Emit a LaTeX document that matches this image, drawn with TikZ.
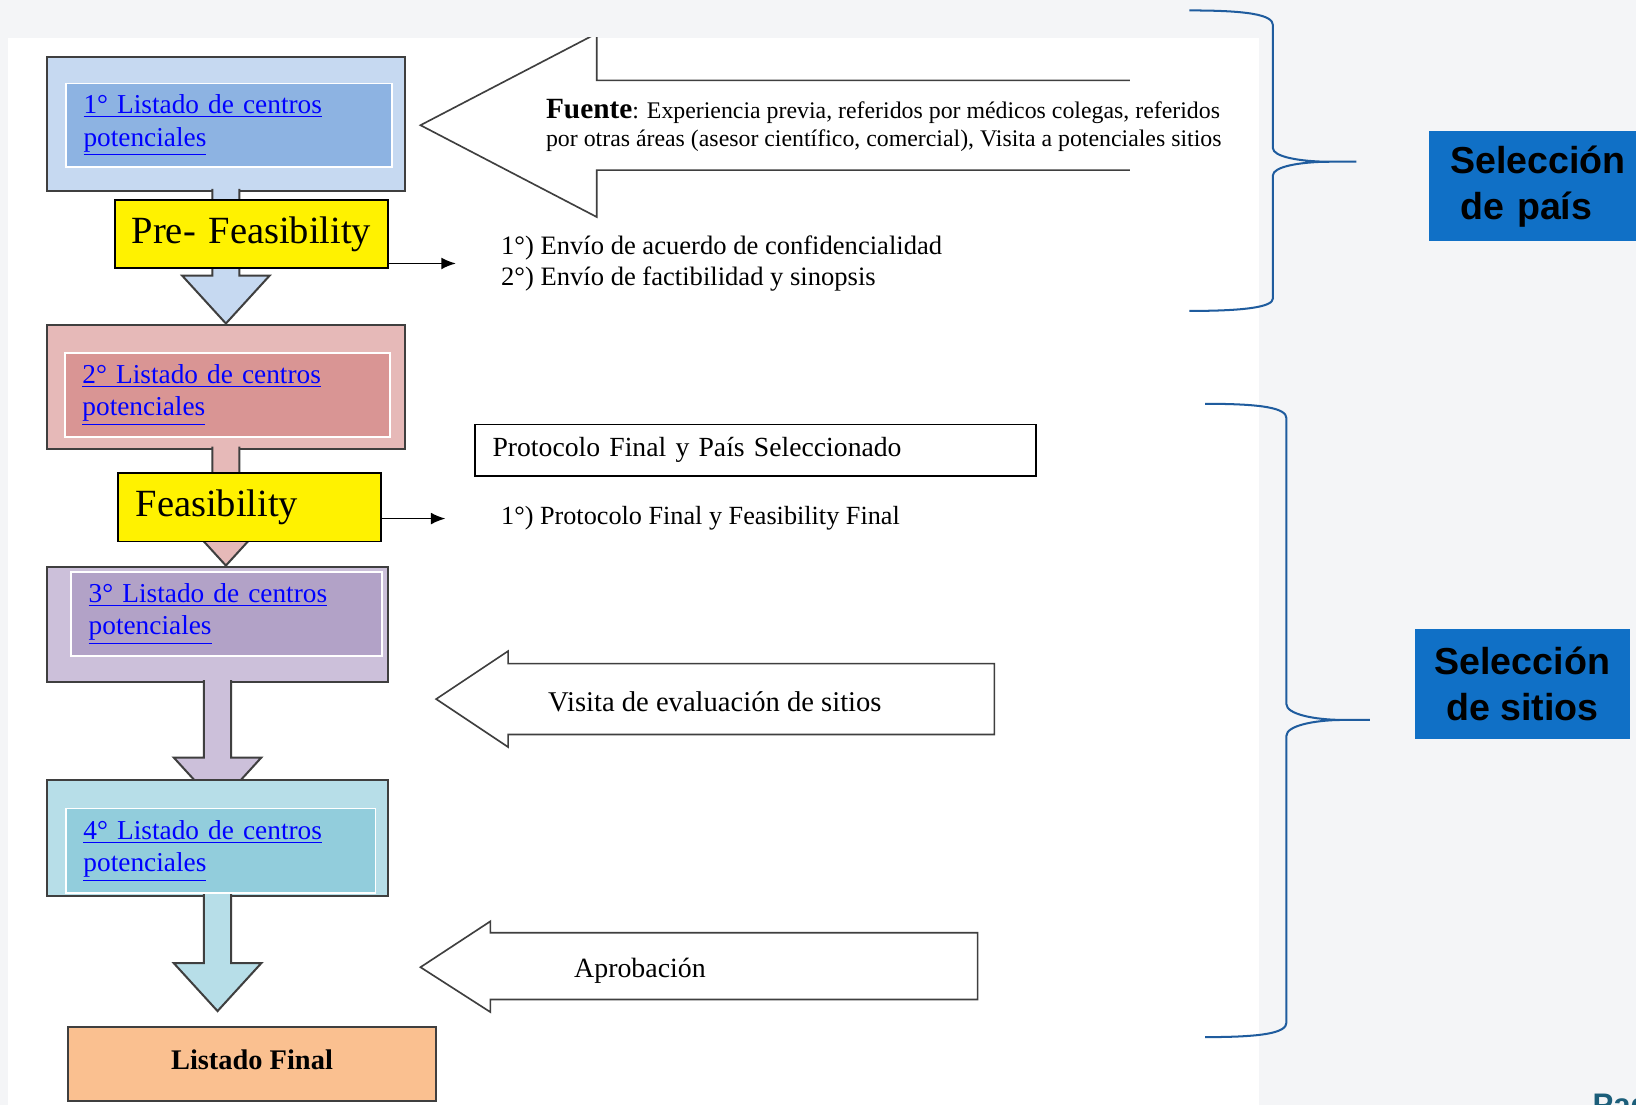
\documentclass[tikz,border=0pt]{standalone}
\usepackage{fontspec}
\setmainfont{Liberation Serif}
\newfontfamily\arialf{Liberation Sans}
\usetikzlibrary{calc,arrows.meta}

\definecolor{edge}{HTML}{3F3F3F}
\definecolor{c1out}{HTML}{C6D9F1}
\definecolor{c1in}{HTML}{8DB3E2}
\definecolor{c2out}{HTML}{E6B9B8}
\definecolor{c2in}{HTML}{D99594}
\definecolor{c3out}{HTML}{CCC0DA}
\definecolor{c3in}{HTML}{B2A2C7}
\definecolor{c4out}{HTML}{B7DEE8}
\definecolor{c4in}{HTML}{92CDDC}
\definecolor{fin}{HTML}{FAC090}
\definecolor{linkc}{HTML}{0000FF}
\definecolor{brc}{HTML}{1F5C9E}
\definecolor{selc}{HTML}{1070C6}
\definecolor{pagc}{HTML}{1B5E7A}
\definecolor{paper}{HTML}{F4F5F7}

\begin{document}
\begin{tikzpicture}[x=0.02cm,y=-0.02cm,>={Latex[length=8pt,width=6.5pt]},
    outer/.style={draw=edge,line width=1.1pt,fill=#1,inner sep=0pt},
    inbox/.style={draw=white,line width=0.9pt,fill=#1,text=linkc,align=left,inner xsep=0.34cm,inner ysep=0pt,font=\fontsize{14.9}{17.6}\selectfont},
    yel/.style={draw=black,line width=1pt,fill=yellow,inner ysep=0pt,font=\fontsize{21}{25}\selectfont},
    fat/.style={draw=edge,line width=1.1pt,fill=#1,to path={let \p1=(\tikztostart),\p2=(\tikztotarget) in
      (\x1-0.26cm,\y1+0.06cm) -- (\x1-0.26cm,\y2+0.92cm) -- (\x1-0.84cm,\y2+0.92cm) -- (\x1,\y2)
      -- (\x1+0.84cm,\y2+0.92cm) -- (\x1+0.26cm,\y2+0.92cm) -- (\x1+0.26cm,\y1+0.06cm)}},
    note/.style={inner sep=0pt,align=left,anchor=west},
    callout/.style={draw=edge,line width=0.9pt,fill=white},
    brk/.style={draw=brc,line width=1.1pt},
    sel/.style={fill=selc,inner sep=0pt,minimum height=2.1cm,font=\arialf\bfseries\fontsize{20.5}{25}\selectfont}]
\useasboundingbox (0,0) rectangle (1568,1059);
\fill[paper] (0,0) rectangle (1568,1059);
\fill[white] (8,36) rectangle (1207,1059);

\draw[brk] (1140,10) .. controls (1195,10) and (1220,14) .. (1220,24) -- (1220,142)
  .. controls (1220,150) and (1245,155) .. (1275,155) -- (1300,155) -- (1275,155)
  .. controls (1245,155) and (1220,160) .. (1220,168) -- (1220,286)
  .. controls (1220,294) and (1195,298) .. (1140,298);
\draw[brk] (1155,387) .. controls (1210,387) and (1233,391) .. (1233,401) -- (1233,675)
  .. controls (1233,684) and (1258,690) .. (1288,690) -- (1313,690) -- (1288,690)
  .. controls (1258,690) and (1233,696) .. (1233,705) -- (1233,980)
  .. controls (1233,990) and (1210,994) .. (1155,994);

\begin{scope}
\clip (8,36) rectangle (1207,1059);
\draw[callout] (1083,77) -- (572,77) -- (572,32) -- (403,120) -- (572,208) -- (572,163) -- (1083,163);
\end{scope}
\draw[callout] (418,670) -- (487,624) -- (487,636) -- (953,636) -- (953,704) -- (487,704) -- (487,716) -- cycle;
\draw[callout] (403,927) -- (470,883) -- (470,894) -- (937,894) -- (937,958) -- (470,958) -- (470,970) -- cycle;

\node[outer=c1out,minimum width=6.86cm,minimum height=2.56cm] (b1) at (216.5,119) {};
\node[inbox=c1in,text width=5.58cm,minimum height=1.6cm] (i1) at (219.5,120) {\underline{1° Listado de centros}\\\underline{potenciales}};
\node[outer=c2out,minimum width=6.86cm,minimum height=2.38cm] (b2) at (216.5,370.5) {};
\node[inbox=c2in,text width=5.56cm,minimum height=1.62cm] (i2) at (218,378.5) {\underline{2° Listado de centros}\\\underline{potenciales}};
\node[outer=c3out,minimum width=6.54cm,minimum height=2.22cm] (b3) at (208.5,598.5) {};
\node[inbox=c3in,text width=5.28cm,minimum height=1.62cm] (i3) at (217,588.5) {\underline{3° Listado de centros}\\\underline{potenciales}};
\node[outer=fin,minimum width=7.06cm,minimum height=1.42cm,font=\bfseries\fontsize{15.5}{18}\selectfont] (f1) at (241.5,1019.5) {\raisebox{0.16cm}{Listado Final}};

\draw[fat=c1out] (b1.south) to (b2.north);
\draw[fat=c2out] (b2.south) to (b3.north);
\coordinate (t4) at (208.5,772);
\draw[fat=c3out] (b3.south) to (t4);

\node[outer=c4out,minimum width=6.54cm,minimum height=2.22cm] (b4) at (208.5,803.5) {};
\node[inbox=c4in,text width=5.26cm,minimum height=1.62cm] (i4) at (211.5,815.5) {\underline{4° Listado de centros}\\\underline{potenciales}};
\draw[fat=c4out] (b4.south) to ([yshift=0.28cm]f1.north);

\node[yel,align=center,inner xsep=0.1cm,text width=5.04cm,minimum height=1.3cm] (p1) at (241,224.5) {Pre- Feasibility};
\node[yel,align=left,inner xsep=0.34cm,text width=4.36cm,minimum height=1.32cm] (p2) at (239,486) {Feasibility};

\node[note,font=\fontsize{13}{15.4}\selectfont] (n1) at (523,120) {{\fontsize{16}{15}\selectfont\bfseries Fuente}: Experiencia previa, referidos por médicos colegas, referidos\\por otras áreas (asesor científico, comercial), Visita a potenciales sitios};
\node[note,font=\fontsize{14.5}{16.5}\selectfont] (e1) at (480,252.5) {1°) Envío de acuerdo de confidencialidad\\2°) Envío de factibilidad y sinopsis};
\node[draw=black,line width=0.9pt,minimum height=0.98cm,inner xsep=0.34cm,text width=10.08cm,align=left,font=\fontsize{15.1}{17}\selectfont] (s1) at (724,431.5) {Protocolo Final y País Seleccionado};
\node[note,font=\fontsize{14.3}{16.5}\selectfont] (e2) at (480,497) {1°) Protocolo Final y Feasibility Final};
\node[note,font=\fontsize{15.6}{18}\selectfont] (v1) at (525,673) {Visita de evaluación de sitios};
\node[note,font=\fontsize{15.2}{18}\selectfont] (v2) at (550,930) {Aprobación};

\draw[->,line width=1pt,shorten >=0.86cm] (p1.east |- e1.west) -- (e1.west);
\draw[->,line width=1pt,shorten >=1.06cm] (p2.east |- e2.west) -- (e2.west);

\node[sel,text width=4.7cm,inner xsep=0.4cm,align=left] (l1) at (1507.5,178.5) {Selección\\\hspace*{0.2cm}de país};
\node[sel,minimum width=4.12cm,align=center] (l2) at (1459,655.5) {Selección\\de sitios};
\node[anchor=north west,inner sep=0pt,text=pagc,font=\arialf\bfseries\fontsize{17}{17}\selectfont] (pg) at (1526,1048) {Pag};
\end{tikzpicture}
\end{document}
